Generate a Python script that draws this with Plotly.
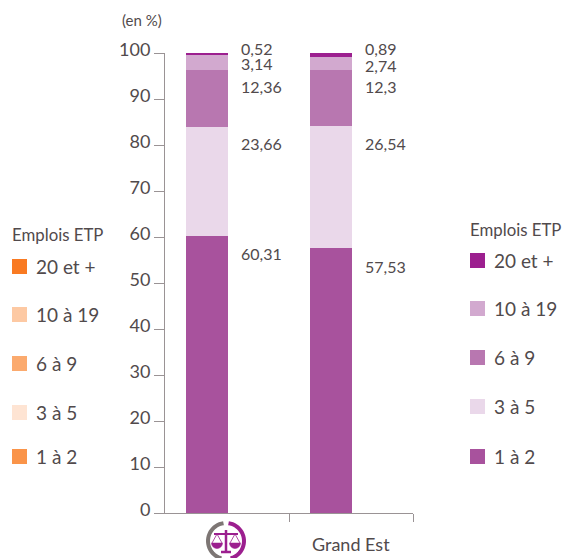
"""
Emplois ETP stacked bars: justice sector vs Grand Est.
"""

import math
import plotly.graph_objects as go

W, H = 563, 558
LEFT, RIGHT, TOP, BOTTOM = 165, 150, 53, 45

tranches = ['1 à 2', '3 à 5', '6 à 9', '10 à 19', '20 et +']
justice = [60.31, 23.66, 12.36, 3.14, 0.52]
grand_est = [57.53, 26.54, 12.3, 2.74, 0.89]
justice_labels = ['60,31', '23,66', '12,36', '3,14', '0,52']
grand_est_labels = ['57,53', '26,54', '12,3', '2,74', '0,89']
purples = ['#a8529d', '#ead8ea', '#b877b0', '#d2a9cf', '#9c1f8f']
oranges = ['#fa9449', '#fee4d3', '#fbaa6e', '#fdc9a3', '#f97a22']
y_ticks = [0, 10, 20, 30, 40, 50, 60, 70, 80, 90, 100]

TEXT = '#514a4c'
AXIS = '#9a9395'
LOGO_GREY = '#7d7674'
LOGO_PURPLE = '#9c1f8f'
FONT = 'Lato'

# vertical nudge of each value label from the top of its segment
label_shift = [-18, -17, -17, -8, 5]


# paper coordinates are relative to the plot area, so convert from page pixels
def px(x):
    return (x - LEFT) / (W - LEFT - RIGHT)


def py(y):
    return 1 - (y - TOP) / (H - TOP - BOTTOM)


def pixel_text(fig, x, y, text, size=17, anchor='left'):
    # annotations carry about 2px of padding on the left
    xshift = -2 if anchor == 'left' else 0
    fig.add_annotation(
        xref='paper', yref='paper', x=px(x), y=py(y), text=text, showarrow=False,
        xanchor=anchor, yanchor='middle', xshift=xshift,
        font=dict(size=size, color=TEXT, family=FONT)
    )


def pixel_legend(fig, x, title_y, rows, colors):
    pixel_text(fig, x, title_y, 'Emplois ETP', size=16.8)
    for (top, label), color in zip(rows, colors):
        fig.add_shape(type='rect', xref='paper', yref='paper', x0=px(x), x1=px(x + 15),
                      y0=py(top), y1=py(top + 15), fillcolor=color, line_width=0)
        pixel_text(fig, x + 24, top + 7, label, size=19)


def pixel_path(fig, points, color, width, close=False):
    d = 'M ' + ' L '.join(f'{px(x)} {py(y)}' for x, y in points)
    if close:
        d += ' Z'
    fig.add_shape(type='path', xref='paper', yref='paper', path=d,
                  line=dict(color=color, width=width),
                  fillcolor=color if close else None)


def ring_arc(cx, cy, r, start_deg, end_deg):
    steps = 24
    angles = [math.radians(start_deg + (end_deg - start_deg) * i / steps) for i in range(steps + 1)]
    return [(cx + r * math.cos(a), cy + r * math.sin(a)) for a in angles]


def add_logo(fig, cx, cy):
    # scales-of-justice emblem standing in for the category label
    pixel_path(fig, ring_arc(cx, cy, 18, 105, 262), LOGO_GREY, 4)
    pixel_path(fig, ring_arc(cx, cy, 18, -82, 75), LOGO_PURPLE, 4)
    pixel_path(fig, [(cx, cy - 11), (cx, cy + 11)], LOGO_PURPLE, 2.5)
    pixel_path(fig, [(cx - 5, cy + 11), (cx + 5, cy + 11)], LOGO_PURPLE, 2.5)
    pixel_path(fig, [(cx - 12, cy - 7), (cx + 12, cy - 7)], LOGO_PURPLE, 2)
    for side in (-1, 1):
        pan_x = cx + side * 9
        pixel_path(fig, [(pan_x - 5, cy + 2), (pan_x, cy - 7), (pan_x + 5, cy + 2)], LOGO_PURPLE, 0.8)
        pixel_path(fig, ring_arc(pan_x, cy + 2, 5.5, 0, 180), LOGO_PURPLE, 0.5, close=True)


fig = go.Figure()

for i, name in enumerate(tranches):
    fig.add_trace(go.Bar(
        x=[0, 1], y=[justice[i], grand_est[i]], name=name, width=0.339,
        marker=dict(color=purples[i], line_width=0)
    ))

# value labels, right of each bar
for xpos, values, labels in ((0, justice, justice_labels), (1, grand_est, grand_est_labels)):
    top = 0
    for value, label, shift in zip(values, labels, label_shift):
        top += value
        fig.add_annotation(
            x=xpos, y=top, text=label, showarrow=False, xanchor='left', yanchor='middle',
            xshift=32, yshift=shift, font=dict(size=16, color=TEXT, family=FONT)
        )

pixel_text(fig, 122, 20, '(en %)', size=15)
pixel_text(fig, 351, 544, 'Grand Est', size=18, anchor='center')
add_logo(fig, 226, 541)

legend_tops_left = [449, 405, 356, 307, 259]
legend_tops_right = [449, 399, 350, 301, 253]
pixel_legend(fig, 12, 235, list(zip(legend_tops_left, tranches)), oranges)
pixel_legend(fig, 470, 229, list(zip(legend_tops_right, tranches)), purples)

fig.update_layout(
    width=W, height=H, barmode='stack', showlegend=False,
    paper_bgcolor='white', plot_bgcolor='white',
    margin=dict(l=LEFT, r=RIGHT, t=TOP, b=BOTTOM),
    font=dict(family=FONT, color=TEXT)
)
fig.update_xaxes(
    range=[-0.339, 1.661], tickmode='array', tickvals=[0.661, 1.661], ticktext=['', ''],
    ticks='outside', ticklen=8, tickcolor=AXIS, tickwidth=1,
    showline=True, linecolor=AXIS, linewidth=1, showgrid=False, zeroline=False
)
fig.update_yaxes(
    range=[0, 100], tickmode='array', tickvals=y_ticks,
    ticks='outside', ticklen=10, tickcolor=AXIS, tickwidth=1, ticklabelshift=-3,
    tickfont=dict(size=18, color=TEXT, family=FONT),
    showline=True, linecolor=AXIS, linewidth=1, showgrid=False, zeroline=False
)

fig.write_html("out.html", config=dict(displayModeBar=False),
               post_script="document.body.style.margin='0';")
